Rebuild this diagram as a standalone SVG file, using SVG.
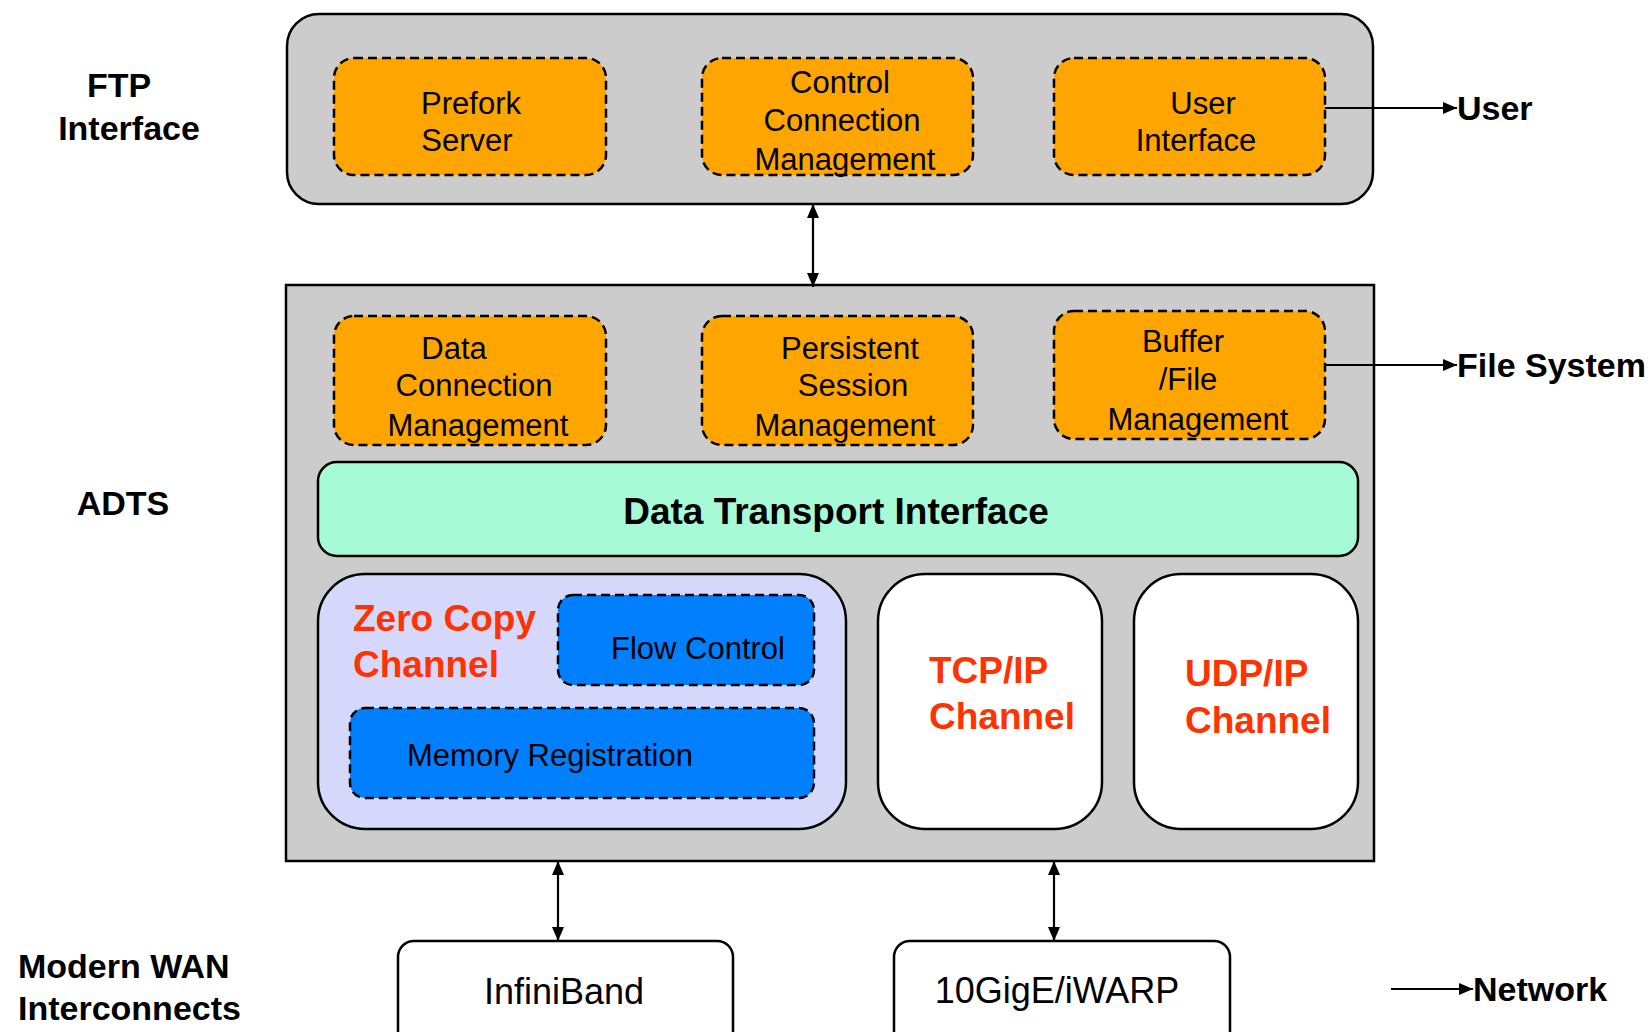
<svg xmlns="http://www.w3.org/2000/svg" width="1652" height="1032" viewBox="0 0 1652 1032">
  <defs>
    <marker id="arrowhead" viewBox="0 0 14 12" refX="14" refY="6" markerWidth="14" markerHeight="12" markerUnits="userSpaceOnUse" orient="auto-start-reverse">
      <path d="M0,0 L14,6 L0,12 Z" fill="#000"/>
    </marker>
    <style>
      .layer { fill: #cccccc; stroke: #000; stroke-width: 2.5; }
      .module { fill: #ffa500; stroke: #000; stroke-width: 2.5; stroke-dasharray: 9 5; }
      .sub { fill: #0080ff; stroke: #000; stroke-width: 2.5; stroke-dasharray: 9 5; }
      .dti { fill: #a6fad6; stroke: #000; stroke-width: 2.5; }
      .zc { fill: #d6d8fb; stroke: #000; stroke-width: 2.5; }
      .chan { fill: #ffffff; stroke: #000; stroke-width: 2.5; }
      .net { fill: #ffffff; stroke: #000; stroke-width: 2.5; }
      .lbl { font-family: "Liberation Sans", Arial, sans-serif; font-size: 31px; fill: #000; }
      .side { font-family: "Liberation Sans", Arial, sans-serif; font-size: 34px; font-weight: bold; fill: #000; }
      .red { font-family: "Liberation Sans", Arial, sans-serif; font-size: 37px; font-weight: bold; fill: #ff3300; }
      .big { font-family: "Liberation Sans", Arial, sans-serif; font-size: 36px; fill: #000; }
      .conn { fill: none; stroke: #000; stroke-width: 2.2; }
    </style>
  </defs>

  <rect width="1652" height="1032" fill="#ffffff"/>

  <!-- side captions -->
  <g id="caption-ftp">
    <text class="side" x="119" y="97" text-anchor="middle">FTP</text>
    <text class="side" x="129" y="140" text-anchor="middle">Interface</text>
  </g>
  <g id="caption-adts">
    <text class="side" x="123" y="515" text-anchor="middle">ADTS</text>
  </g>
  <g id="caption-wan">
    <text class="side" x="18" y="978">Modern WAN</text>
    <text class="side" x="18" y="1020">Interconnects</text>
  </g>

  <!-- FTP interface layer -->
  <g id="ftp-layer">
    <rect class="layer" x="287" y="14" width="1086" height="190" rx="32"/>
  </g>
  <g id="prefork-server">
    <rect class="module" x="334" y="58" width="272" height="117" rx="20"/>
    <text class="lbl" x="471" y="114" text-anchor="middle">Prefork</text>
    <text class="lbl" x="467" y="151" text-anchor="middle">Server</text>
  </g>
  <g id="control-connection">
    <rect class="module" x="702" y="58" width="271" height="117" rx="20"/>
    <text class="lbl" x="840" y="93" text-anchor="middle">Control</text>
    <text class="lbl" x="842" y="131" text-anchor="middle">Connection</text>
    <text class="lbl" x="845" y="170" text-anchor="middle">Management</text>
  </g>
  <g id="user-interface">
    <rect class="module" x="1054" y="58" width="271" height="117" rx="20"/>
    <text class="lbl" x="1203" y="114" text-anchor="middle">User</text>
    <text class="lbl" x="1196" y="151" text-anchor="middle">Interface</text>
  </g>

  <!-- ADTS layer -->
  <g id="adts-layer">
    <rect class="layer" x="286" y="285" width="1088" height="576"/>
  </g>
  <g id="data-connection">
    <rect class="module" x="334" y="316" width="272" height="129" rx="20"/>
    <text class="lbl" x="454" y="359" text-anchor="middle">Data</text>
    <text class="lbl" x="474" y="396" text-anchor="middle">Connection</text>
    <text class="lbl" x="478" y="436" text-anchor="middle">Management</text>
  </g>
  <g id="persistent-session">
    <rect class="module" x="702" y="316" width="271" height="129" rx="20"/>
    <text class="lbl" x="850" y="359" text-anchor="middle">Persistent</text>
    <text class="lbl" x="853" y="396" text-anchor="middle">Session</text>
    <text class="lbl" x="845" y="436" text-anchor="middle">Management</text>
  </g>
  <g id="buffer-file">
    <rect class="module" x="1054" y="311" width="271" height="128" rx="20"/>
    <text class="lbl" x="1183" y="352" text-anchor="middle">Buffer</text>
    <text class="lbl" x="1188" y="390" text-anchor="middle">/File</text>
    <text class="lbl" x="1198" y="430" text-anchor="middle">Management</text>
  </g>
  <g id="data-transport-interface">
    <rect class="dti" x="318" y="462" width="1040" height="94" rx="19"/>
    <text class="side" x="836" y="524" text-anchor="middle" style="font-size:37px">Data Transport Interface</text>
  </g>
  <g id="zero-copy-channel">
    <rect class="zc" x="318" y="574" width="528" height="255" rx="47"/>
    <text class="red" x="353" y="631">Zero Copy</text>
    <text class="red" x="353" y="677">Channel</text>
  </g>
  <g id="flow-control">
    <rect class="sub" x="558" y="595" width="256" height="90" rx="15"/>
    <text class="lbl" x="698" y="659" text-anchor="middle">Flow Control</text>
  </g>
  <g id="memory-registration">
    <rect class="sub" x="350" y="708" width="464" height="90" rx="15"/>
    <text class="lbl" x="407" y="766">Memory Registration</text>
  </g>
  <g id="tcp-channel">
    <rect class="chan" x="878" y="574" width="224" height="255" rx="47"/>
    <text class="red" x="929" y="683">TCP/IP</text>
    <text class="red" x="929" y="729">Channel</text>
  </g>
  <g id="udp-channel">
    <rect class="chan" x="1134" y="574" width="224" height="255" rx="47"/>
    <text class="red" x="1185" y="686">UDP/IP</text>
    <text class="red" x="1185" y="733">Channel</text>
  </g>

  <!-- network interconnects -->
  <g id="infiniband">
    <rect class="net" x="398" y="941" width="335" height="110" rx="16"/>
    <text class="big" x="564" y="1004" text-anchor="middle">InfiniBand</text>
  </g>
  <g id="iwarp">
    <rect class="net" x="894" y="941" width="336" height="110" rx="16"/>
    <text class="big" x="1057" y="1003" text-anchor="middle">10GigE/iWARP</text>
  </g>

  <!-- external endpoints -->
  <g id="user">
    <text class="side" x="1457" y="120">User</text>
  </g>
  <g id="file-system">
    <text class="side" x="1457" y="377">File System</text>
  </g>
  <g id="network">
    <text class="side" x="1473" y="1001">Network</text>
  </g>

  <!-- connectors -->
  <g id="connectors">
    <line class="conn" x1="813" y1="204" x2="813" y2="287" marker-start="url(#arrowhead)" marker-end="url(#arrowhead)"/>
    <line class="conn" x1="558" y1="861" x2="558" y2="941" marker-start="url(#arrowhead)" marker-end="url(#arrowhead)"/>
    <line class="conn" x1="1054" y1="861" x2="1054" y2="941" marker-start="url(#arrowhead)" marker-end="url(#arrowhead)"/>
    <line class="conn" x1="1325" y1="108" x2="1457" y2="108" marker-end="url(#arrowhead)"/>
    <line class="conn" x1="1325" y1="365" x2="1457" y2="365" marker-end="url(#arrowhead)"/>
    <line class="conn" x1="1391" y1="989" x2="1473" y2="989" marker-end="url(#arrowhead)"/>
  </g>
</svg>
